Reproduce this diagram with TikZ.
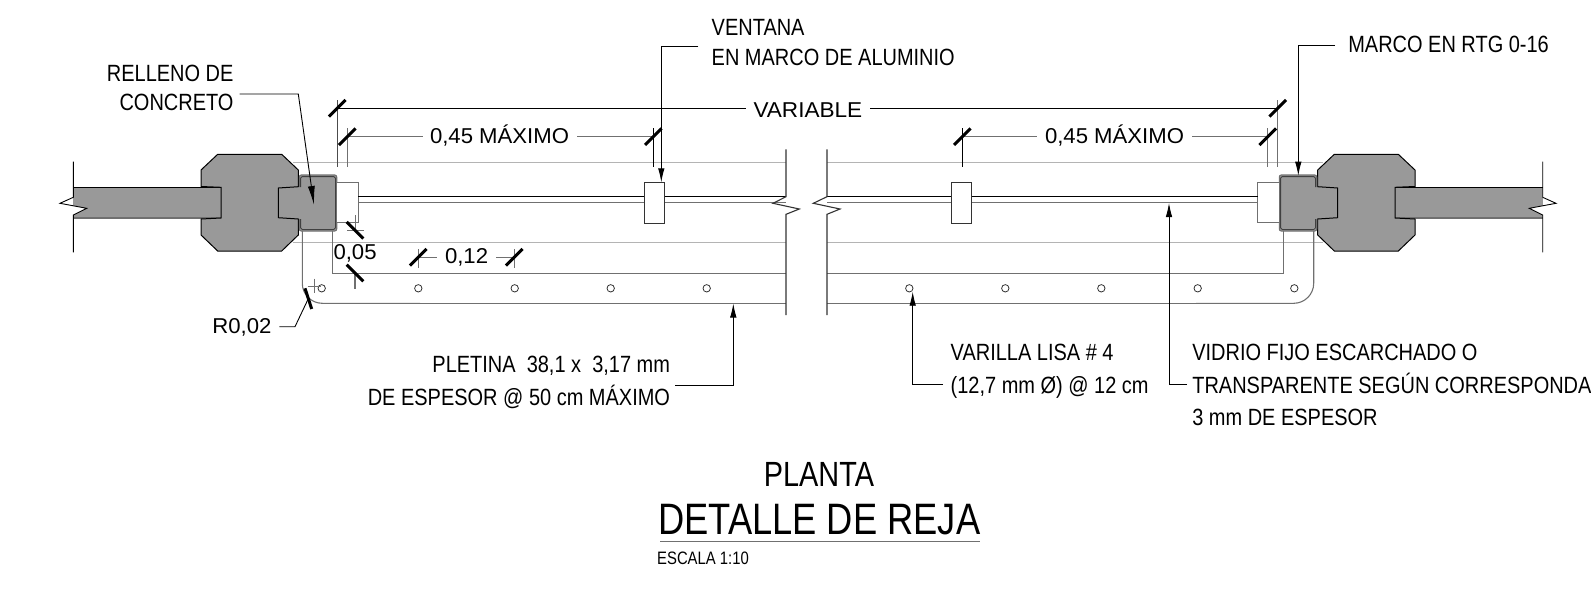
\documentclass[tikz,border=0pt]{standalone}
\usepackage{fontspec}
\usetikzlibrary{arrows.meta}
\newfontfamily\narrowf[FakeStretch=0.85]{Liberation Sans}
\newfontfamily\widef[FakeStretch=1.03]{Liberation Sans}
\newfontfamily\varf[FakeStretch=1.05]{Liberation Sans}
\newfontfamily\planf[FakeStretch=0.825]{Liberation Sans}
\definecolor{conc}{HTML}{999999}
\definecolor{pale}{HTML}{B4B4B4}
\definecolor{midg}{HTML}{707070}
\tikzset{
  lab/.style={inner sep=0pt,outer sep=0pt,text=black,font=\narrowf\fontsize{23.5}{28}\selectfont},
  dimtxt/.style={inner sep=0pt,outer sep=0pt,text=black,font=\widef\fontsize{21.5}{26}\selectfont},
  ln/.style={draw=black,line width=0.9pt},
  gln/.style={draw=midg,line width=1.1pt},
  thin gray/.style={draw=midg,line width=0.7pt},
  pln/.style={draw=pale,line width=1.4pt},
  tick/.style={draw=black,line width=3pt},
  lead/.style={draw=black,line width=0.9pt,-{Latex[length=14pt,width=6.5pt]}},
  conc fill/.style={fill=conc,draw=black,line width=1pt,line join=miter},
}
% one end of the elevation, written for the left end
\newcommand{\rejaside}{%
  % pale lines behind the column
  \draw[pln] (293,162.7) -- (420,162.7);
  \draw[pln] (293,242.7) -- (420,242.7);
  % wall
  \fill[conc] (73.3,187.3) -- (221,187.3) -- (221,218) -- (73.3,218) -- cycle;
  \fill[white] (73.3,187) -- (73.3,197.3) -- (60,203.3) -- (86.7,208.3) -- (73.3,215) -- (73.3,216.5) -- (55,216.5) -- (55,187) -- cycle;
  \draw[ln,line width=1pt] (73.3,187.3) -- (221,187.3);
  \draw[gln] (73.3,218) -- (221,218);
  \draw[ln] (73.3,161.7) -- (73.3,197.3) -- (60,203.3) -- (86.7,208.3) -- (73.3,215) -- (73.3,252.3);
  % tab of the fill, then the column round it
  \fill[conc] (277.8,186.5) rectangle (302,219);
  \draw[conc fill] (201,186.5) -- (201,170) -- (217.7,154.3) -- (281.7,154.3) -- (298.3,170) -- (298.3,186.7)
     -- (278.3,188) -- (278.3,217.7) -- (298.3,219) -- (298.3,235) -- (281.7,251) -- (217.7,251)
     -- (201,235) -- (201,219) -- (221,218) -- (221,187.3) -- cycle;
  % frame
  \fill[conc,rounded corners=2pt] (299.3,175) rectangle (336.7,231);
  \draw[gln,rounded corners=2pt] (299.3,187) -- (299.3,175) -- (336.7,175) -- (336.7,231) -- (299.3,231) -- (299.3,219);
  \draw[draw=black!75,line width=0.8pt,rounded corners=1.5pt] (300.6,187) -- (300.6,176.6) -- (335.4,176.6) -- (335.4,229.4) -- (300.6,229.4) -- (300.6,219);
  % end block of the window
  \draw[gln,fill=white] (336.7,182.3) -- (358.3,182.3) -- (358.3,222.7) -- (336.7,222.7);
  % pletina
  \draw[gln] (302.3,231) -- (302.3,283.3) arc[start angle=180,end angle=90,radius=20] -- (420,303.3);
  \draw[gln] (332.7,231) -- (332.7,273.3) -- (420,273.3);
  % glass start
  \draw[ln] (358.3,196.7) -- (420,196.7);
  \draw[gln] (358.3,202.7) -- (420,202.7);
  % bars
  \foreach \hx in {321.7,418.3,514.7,610.7,706.7}
    \draw[draw=black!80,line width=0.8pt,fill=white] (\hx,288.3) circle[radius=3.7];
  % intermediate window block
  \draw[ln,draw=black!80,fill=white] (644.3,182.3) rectangle (664.3,223);
}
\begin{document}
\begin{tikzpicture}[x=1pt,y=-1pt]
\useasboundingbox (0,0) rectangle (1591,598);

% running lines of both halves
\foreach \xa/\xb in {400/786,827/1216}{
  \draw[pln] (\xa,162.7) -- (\xb,162.7);
  \draw[pln] (\xa,242.7) -- (\xb,242.7);
  \draw[ln] (\xa,196.7) -- (\xb,196.7);
  \draw[gln] (\xa,202.7) -- (\xb,202.7);
  \draw[gln] (\xa,273.3) -- (\xb,273.3);
  \draw[gln] (\xa,303.3) -- (\xb,303.3);
}
\rejaside
\begin{scope}[shift={(1616,0)},xscale=-1]
  \rejaside
\end{scope}

% break lines
\draw[gln,draw=black!80] (786,149.3) -- (786,196.7) -- (773,203.3) -- (799.3,209) -- (786,214.3) -- (786,315);
\draw[gln,draw=black!80] (827,149.3) -- (827,196.7) -- (813.3,203.3) -- (840,209) -- (827,214.3) -- (827,315);

% ---------- dimensions ----------
\node[dimtxt,anchor=base west,font=\varf\fontsize{21.5}{26}\selectfont] (tvar) at (753.5,117) {VARIABLE};
\coordinate (va) at (337.3,108.3);
\coordinate (vb) at (1277.7,108.3);
\draw[ln] (va) -- ([xshift=-8pt]tvar.west |- va);
\draw[ln] ([xshift=8pt]tvar.east |- vb) -- (vb);
\draw[gln,draw=black!70] (337.3,100) -- (337.3,166.7);
\draw[gln] (1277.7,100) -- (1277.7,166.7);

\node[dimtxt,anchor=base west] (tla) at (430,143.3) {0,45 MÁXIMO};
\coordinate (la) at (347.3,136.7);
\coordinate (lb) at (653.3,136.7);
\draw[gln] (la) -- ([xshift=-7pt]tla.west |- la);
\draw[gln] ([xshift=8pt]tla.east |- lb) -- (lb);
\draw[gln] (347.3,128.4) -- (347.3,166.7);
\draw[ln] (653.3,128.4) -- (653.3,166.7);

\node[dimtxt,anchor=base west] (tra) at (1045,143.3) {0,45 MÁXIMO};
\coordinate (ra) at (962.3,136.7);
\coordinate (rb) at (1267.7,136.7);
\draw[gln] (ra) -- ([xshift=-8pt]tra.west |- ra);
\draw[gln] ([xshift=8pt]tra.east |- rb) -- (rb);
\draw[ln] (962.3,128.4) -- (962.3,166.7);
\draw[gln] (1267.7,128.4) -- (1267.7,166.7);

\foreach \c in {va,vb,la,lb,ra,rb}
  \draw[tick] ([shift={(-8.3,8.3)}]\c) -- ([shift={(8.3,-8.3)}]\c);

% 0,05
\node[dimtxt,anchor=base west] (t05) at (333.5,259) {0,05};
\coordinate (ca) at (355,230.3);
\coordinate (cb) at (355,273);
\draw[thin gray] (355,215) -- (355,232);
\draw[thin gray] (347,230) -- (364,230);
\draw[gln] (355,273) -- (355,289);
\foreach \c in {ca,cb}
  \draw[tick] ([shift={(-8.3,-8.3)}]\c) -- ([shift={(8.3,8.3)}]\c);

% 0,12
\node[dimtxt,anchor=base west] (t12) at (445,263.5) {0,12};
\coordinate (da) at (418.3,257.3);
\coordinate (db) at (514.3,257.3);
\draw[gln] (da) -- ([xshift=-8pt]t12.west |- da);
\draw[gln] ([xshift=8pt]t12.east |- db) -- (db);
\draw[gln] (418.3,249) -- (418.3,268.3);
\draw[gln] (514.3,249) -- (514.3,268.3);
\foreach \c in {da,db}
  \draw[tick] ([shift={(-8.3,8.3)}]\c) -- ([shift={(8.3,-8.3)}]\c);

% R0,02
\node[dimtxt,anchor=base west] (trad) at (212.3,333.3) {R0,02};
\coordinate (rt) at (308.3,298.7);
\draw[thin gray] (314,278.5) -- (314,292.5);
\draw[thin gray] (307.5,286) -- (321,286);
\draw[ln] ([xshift=8pt]trad.east |- 0,326.7) -- (295,326.7) -- (rt);
\draw[tick] (305,288.3) -- (311.7,309);

% ---------- labels ----------
\node[lab,anchor=base east] (rel) at (233.5,81.5) {RELLENO DE};
\node[lab,anchor=base east] (con) at (233.5,110.7) {CONCRETO};
\coordinate (ctip) at (314,205);
\draw[lead,-{Latex[length=19pt,width=7pt]}] ([xshift=6pt]con.east |- 0,94) -- (298.3,94) -- (ctip);

\node[lab,anchor=base west] (ven) at (711.7,35) {VENTANA};
\node[lab,anchor=base west] (alu) at (711.7,65) {EN MARCO DE ALUMINIO};
\coordinate (vtip) at (661.3,182.3);
\draw[lead] (698.3,46) -- (661.3,46) -- (vtip);

\node[lab,anchor=base west] (mar) at (1348.3,52.3) {MARCO EN RTG 0-16};
\coordinate (mtip) at (1298.3,175.7);
\draw[lead] (1335,45.7) -- (1298.3,45.7) -- (mtip);

\node[lab,anchor=base east] (pl1) at (670,372.3) {PLETINA\ \ 38,1 x\ \ 3,17 mm};
\node[lab,anchor=base east] (pl2) at (670,405.5) {DE ESPESOR @ 50 cm MÁXIMO};
\coordinate (ptip) at (733.3,303.5);
\draw[lead] (675,385) -- (733.3,385) -- (ptip);

\node[lab,anchor=base west] (va1) at (950.7,360.5) {VARILLA LISA \# 4};
\node[lab,anchor=base west] (va2) at (950.7,393) {(12,7 mm Ø) @ 12 cm};
\coordinate (vatip) at (912.7,291.7);
\draw[lead] (943,384.6) -- (912.7,384.6) -- (vatip);

\node[lab,anchor=base west] (vi1) at (1192.3,360.5) {VIDRIO FIJO ESCARCHADO O};
\node[lab,anchor=base west] (vi2) at (1192.3,393) {TRANSPARENTE SEGÚN CORRESPONDA};
\node[lab,anchor=base west] (vi3) at (1192.3,425.5) {3 mm DE ESPESOR};
\coordinate (vitip) at (1169,203);
\draw[lead] (1187,384.6) -- (1169,384.6) -- (vitip);

% ---------- title ----------
\node[inner sep=0pt,anchor=base,font=\planf\fontsize{35}{40}\selectfont] (tp) at (819,486) {PLANTA};
\node[inner sep=0pt,anchor=base west,font=\planf\fontsize{44}{50}\selectfont] (td) at (658,534) {DETALLE DE REJA};
\coordinate (ula) at (660,541.7);
\coordinate (ulb) at (980,541.7);
\draw[gln] (ula) -- (ulb);
\node[inner sep=0pt,anchor=base west,font=\planf\fontsize{18}{22}\selectfont] (te) at (657,564) {ESCALA 1:10};
\end{tikzpicture}
\end{document}
